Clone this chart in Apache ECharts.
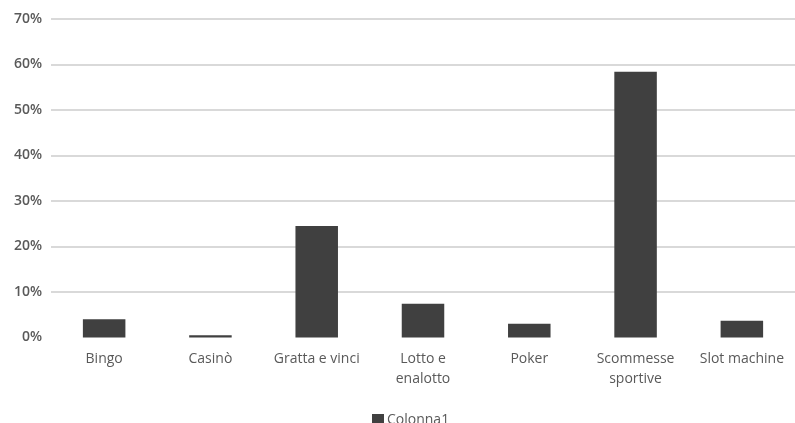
<!DOCTYPE html>
<html>
<head>
<meta charset="utf-8">
<script src="https://cdn.jsdelivr.net/npm/echarts@6/dist/echarts.min.js"></script>
<style>
html,body{margin:0;padding:0;background:#fff;}
#chart{width:795px;height:423px;}
</style>
</head>
<body>
<div id="chart"></div>
<script>
var categories = ['Bingo', 'Casinò', 'Gratta e vinci', 'Lotto e enalotto', 'Poker', 'Scommesse sportive', 'Slot machine'];
var colonna1 = [4.0, 0.5, 24.5, 7.4, 3.0, 58.4, 3.7];
var seriesName = 'Colonna1';

function wrapLabel(s) {
  if (s.length > 14) {
    var i = s.lastIndexOf(' ');
    return s.slice(0, i) + '\n' + s.slice(i + 1);
  }
  return s;
}

var chart = echarts.init(document.getElementById('chart'), null, {renderer: 'canvas'});
chart.setOption({
  animation: false,
  textStyle: {fontFamily: 'Open Sans'},
  grid: {left: 51, right: -2, top: 19, bottom: 85.5, containLabel: false},
  legend: {
    data: [seriesName],
    left: 372,
    top: 413,
    padding: 0,
    icon: 'rect',
    itemWidth: 12,
    itemHeight: 12,
    itemGap: 4,
    textStyle: {color: '#595959', fontSize: 14, fontFamily: 'Open Sans', padding: [0, 0, 0, -2]}
  },
  xAxis: {
    type: 'category',
    data: categories,
    axisLine: {show: false},
    axisTick: {show: false},
    axisLabel: {
      color: '#595959',
      fontSize: 14,
      fontFamily: 'Open Sans',
      margin: 12,
      lineHeight: 20,
      interval: 0,
      formatter: wrapLabel
    }
  },
  yAxis: {
    type: 'value',
    min: 0,
    max: 70,
    interval: 10,
    axisLine: {show: false},
    axisTick: {show: false},
    axisLabel: {
      color: '#595959',
      fontSize: 14,
      fontWeight: 600,
      fontFamily: 'Open Sans',
      margin: 9,
      formatter: '{value}%'
    },
    splitLine: {
      lineStyle: {
        color: ['rgba(0,0,0,0)', '#d9d9d9', '#d9d9d9', '#d9d9d9', '#d9d9d9', '#d9d9d9', '#d9d9d9', '#d9d9d9'],
        width: 2
      }
    }
  },
  series: [{
    name: seriesName,
    type: 'bar',
    data: colonna1,
    barWidth: '40%',
    itemStyle: {color: '#404040'}
  }]
});
</script>
</body>
</html>
